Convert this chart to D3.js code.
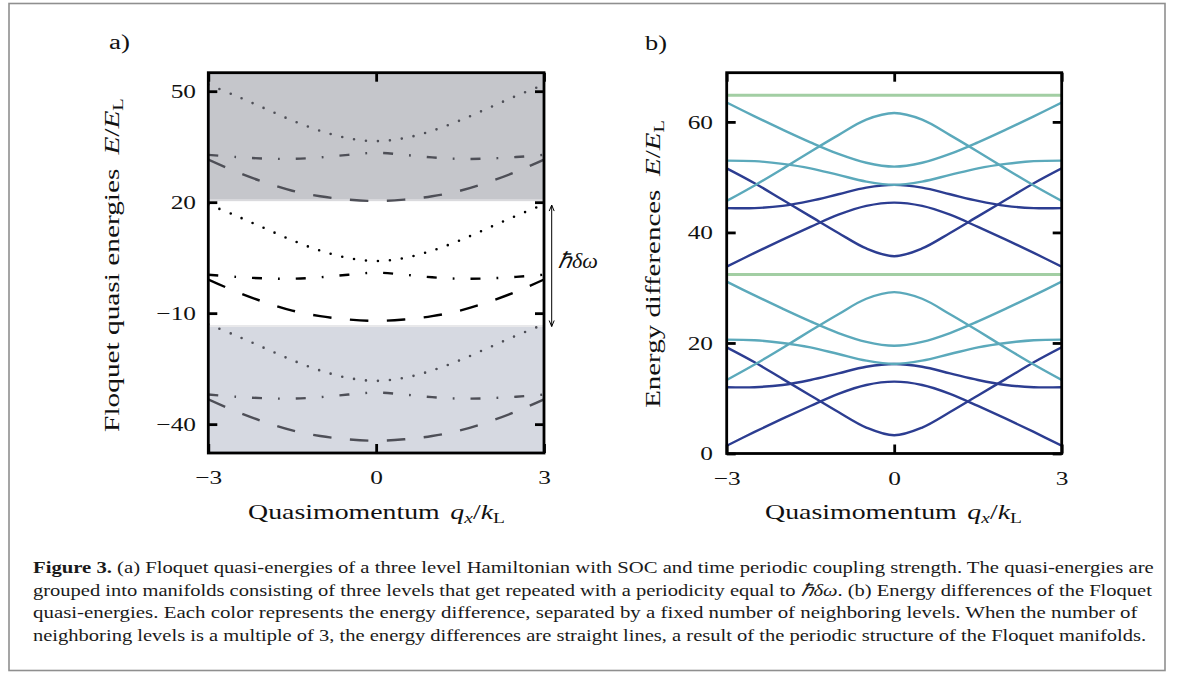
<!DOCTYPE html>
<html><head><meta charset="utf-8">
<script src="https://cdn.jsdelivr.net/npm/d3@7"></script>
<style>html,body{margin:0;padding:0;background:#fff;} svg{display:block;}</style>
</head><body>
<svg id="c" width="1182" height="675"></svg>
<script>
// ---------------- data ----------------
const qValues = [-3,-2.5,-2,-1.5,-1,-0.5,0,0.5,1,1.5,2,2.5,3];
const xTicks = [-3,0,3];

// (a) Floquet quasi-energies, three manifolds x three levels
const dotTop     = [51.8,48.7,45.4,42.1,39.3,37.3,36.5,37.3,39.3,42.1,45.4,48.7,51.8];
const dashDotTop = [32.8,32.2,31.8,31.7,32.1,32.8,33.35,32.8,32.1,31.7,31.8,32.2,32.8];
const dashTop    = [31.5,28.2,25.4,23.1,21.6,20.7,20.3,20.7,21.6,23.1,25.4,28.2,31.5];
const dotMid     = [19.4,16.3,13.0,9.7,6.9,4.9,4.1,4.9,6.9,9.7,13.0,16.3,19.4];
const dashDotMid = [0.4,-0.2,-0.6,-0.7,-0.3,0.4,0.95,0.4,-0.3,-0.7,-0.6,-0.2,0.4];
const dashMid    = [-0.9,-4.2,-7.0,-9.3,-10.8,-11.7,-12.1,-11.7,-10.8,-9.3,-7.0,-4.2,-0.9];
const dotBot     = [-13.0,-16.1,-19.4,-22.7,-25.5,-27.5,-28.3,-27.5,-25.5,-22.7,-19.4,-16.1,-13.0];
const dashDotBot = [-32.0,-32.6,-33.0,-33.1,-32.7,-32.0,-31.45,-32.0,-32.7,-33.1,-33.0,-32.6,-32.0];
const dashBot    = [-33.3,-36.6,-39.4,-41.7,-43.2,-44.1,-44.5,-44.1,-43.2,-41.7,-39.4,-36.6,-33.3];
const manifoldUpperEdge = 20.3;   // bottom of upper shaded manifold
const manifoldLowerEdge = -13.2;  // top of lower shaded manifold
const yTicksA = [-40,-10,20,50];

// (b) energy differences
const diffA  = [1.4,3.9,6.3,8.6,10.8,12.4,13.0,12.4,10.8,8.6,6.3,3.9,1.4];
const diffB  = [19.2,16.5,13.5,10.5,7.5,4.7,3.3,4.7,7.5,10.5,13.5,16.5,19.2];
const diffC  = [12.0,12.0,12.4,13.3,14.5,15.7,16.2,15.7,14.5,13.3,12.4,12.0,12.0];
const diffA2 = [33.8,36.3,38.7,41.0,43.2,44.8,45.4,44.8,43.2,41.0,38.7,36.3,33.8];
const diffB2 = [51.6,48.9,45.9,42.9,39.9,37.1,35.7,37.1,39.9,42.9,45.9,48.9,51.6];
const diffC2 = [44.4,44.4,44.8,45.7,46.9,48.1,48.6,48.1,46.9,45.7,44.8,44.4,44.4];
const diffD  = [20.6,20.5,20.0,19.2,18.0,16.8,16.2,16.8,18.0,19.2,20.0,20.5,20.6];
const diffE  = [13.3,16.1,19.1,22.2,25.2,28.0,29.2,28.0,25.2,22.2,19.1,16.1,13.3];
const diffF  = [31.1,28.6,26.2,23.9,21.8,20.2,19.5,20.2,21.8,23.9,26.2,28.6,31.1];
const diffD2 = [53.0,52.9,52.4,51.6,50.4,49.2,48.6,49.2,50.4,51.6,52.4,52.9,53.0];
const diffE2 = [45.7,48.5,51.5,54.6,57.6,60.4,61.6,60.4,57.6,54.6,51.5,48.5,45.7];
const diffF2 = [63.5,61.0,58.6,56.3,54.2,52.6,51.9,52.6,54.2,56.3,58.6,61.0,63.5];
const qEnds  = [-3,3];
const diffG1 = [32.4,32.4];
const diffG2 = [64.8,64.8];
const yTicksB = [0,20,40,60];

const captionLines = [
  [["Figure 3.", "b"], [" (a) Floquet quasi-energies of a three level Hamiltonian with SOC and time periodic coupling strength. The quasi-energies are", ""]],
  [["grouped into manifolds consisting of three levels that get repeated with a periodicity equal to ", ""], ["ℏδω", "i"], [". (b) Energy differences of the Floquet", ""]],
  [["quasi-energies. Each color represents the energy difference, separated by a fixed number of neighboring levels. When the number of", ""]],
  [["neighboring levels is a multiple of 3, the energy differences are straight lines, a result of the periodic structure of the Floquet manifolds.", ""]]
];

// ---------------- drawing ----------------
const FONT = "'Liberation Serif','Times New Roman',serif";
const svg = d3.select("#c");
const STRETCH = 1.3;

// figure border
svg.append("rect").attr("x",9).attr("y",3.5).attr("width",1156).attr("height",667)
  .attr("fill","none").attr("stroke","#8f8f8f").attr("stroke-width",1.6);

function fitText(sel, x, y, target, rotate) {
  const w = sel.node().getBBox().width;
  const k = target / w;
  sel.attr("transform", rotate
    ? `translate(${x},${y}) rotate(-90) scale(${k},1)`
    : `translate(${x},${y}) scale(${k},1)`);
}
function mathText(parent, pieces, fs, anchor) {
  const t = parent.append("text").attr("font-family",FONT).attr("font-size",fs)
    .attr("text-anchor",anchor).attr("fill","#111");
  let shifted = false;
  pieces.forEach(p => {
    const ts = t.append("tspan").text(p.t);
    if (p.i) ts.attr("font-style","italic");
    if (p.dx) ts.attr("dx", p.dx);
    if (p.sub) { ts.attr("font-size", fs*0.7); if (!shifted) ts.attr("dy", fs*0.2); shifted = true; }
    else if (shifted) { ts.attr("dy", -fs*0.2); shifted = false; }
  });
  return t;
}

const xA = d3.scaleLinear().domain([-3,3]).range([208.3,544]);
const yA = d3.scaleLinear().domain([-47.8,55]).range([453,72.7]);
const xB = d3.scaleLinear().domain([-3,3]).range([726.7,1061.7]);
const yB = d3.scaleLinear().domain([0,68.9]).range([453.5,72.7]);

function clip(id, x, y) {
  svg.append("clipPath").attr("id",id).append("rect")
    .attr("x",x.range()[0]).attr("y",y.range()[1])
    .attr("width",x.range()[1]-x.range()[0]).attr("height",y.range()[0]-y.range()[1]);
}
clip("clipA", xA, yA); clip("clipB", xB, yB);

// ----- panel a -----
const gA = svg.append("g").attr("clip-path","url(#clipA)");
gA.append("rect").attr("x",xA(-3)).attr("width",xA(3)-xA(-3))
  .attr("y",yA(55)).attr("height",yA(manifoldUpperEdge)-yA(55)).attr("fill","#c5c6cb");
gA.append("rect").attr("x",xA(-3)).attr("width",xA(3)-xA(-3))
  .attr("y",yA(manifoldUpperEdge)-2).attr("height",2).attr("fill","#dadadd");
gA.append("rect").attr("x",xA(-3)).attr("width",xA(3)-xA(-3))
  .attr("y",yA(manifoldLowerEdge)).attr("height",yA(-47.8)-yA(manifoldLowerEdge)).attr("fill","#d6d9e1");
gA.append("rect").attr("x",xA(-3)).attr("width",xA(3)-xA(-3))
  .attr("y",yA(manifoldLowerEdge)).attr("height",2).attr("fill","#e8e8ea");

const lineA = d3.line().x((d,i)=>xA(qValues[i])).y(d=>yA(d)).curve(d3.curveCatmullRom.alpha(0.5));
const styles = {
  dot:     {dash:"0,12", w:2.6, cap:"round"},
  dashDot: {dash:"10,16,1.8,16", w:2.4, cap:"butt"},
  dash:    {dash:"18.5,18.5", w:2.4, cap:"butt"}
};
const seriesA = [
  [dotTop,"dot","#4e4f57"],[dashDotTop,"dashDot","#4e4f57"],[dashTop,"dash","#4e4f57"],
  [dotMid,"dot","#000"],[dashDotMid,"dashDot","#000"],[dashMid,"dash","#000"],
  [dotBot,"dot","#4e4f57"],[dashDotBot,"dashDot","#4e4f57"],[dashBot,"dash","#4e4f57"]
];
seriesA.forEach(([vals, st, col]) => {
  const s = styles[st];
  gA.append("path").attr("d", lineA(vals)).attr("fill","none").attr("stroke",col)
    .attr("stroke-width",s.w).attr("stroke-dasharray",s.dash).attr("stroke-linecap",s.cap);
});

// ----- panel b -----
const gB = svg.append("g").attr("clip-path","url(#clipB)");
const lineB = d3.line().x((d,i)=>xB(qValues[i])).y(d=>yB(d)).curve(d3.curveCatmullRom.alpha(0.5));
const lineG = d3.line().x((d,i)=>xB(qEnds[i])).y(d=>yB(d));
const BLUE = "#2c3d91", TEAL = "#5ba9bb", GREEN = "#a2cea3";
[diffA,diffB,diffC,diffA2,diffB2,diffC2].forEach(v =>
  gB.append("path").attr("d",lineB(v)).attr("fill","none").attr("stroke",BLUE).attr("stroke-width",2.4));
[diffD,diffE,diffF,diffD2,diffE2,diffF2].forEach(v =>
  gB.append("path").attr("d",lineB(v)).attr("fill","none").attr("stroke",TEAL).attr("stroke-width",2.4));
[diffG1,diffG2].forEach(v =>
  gB.append("path").attr("d",lineG(v)).attr("fill","none").attr("stroke",GREEN).attr("stroke-width",3));

// ----- axes / frames -----
const fmt = d3.format("d");
function axes(x, y, yTicks, xPad, yPad) {
  const x0 = x.range()[0], x1 = x.range()[1], y0 = y.range()[0], y1 = y.range()[1];
  const gl = svg.append("g").attr("transform",`translate(${x0},0)`)
    .call(d3.axisLeft(y).tickValues(yTicks).tickFormat(fmt).tickSize(-9).tickPadding(yPad));
  const gr = svg.append("g").attr("transform",`translate(${x1},0)`)
    .call(d3.axisRight(y).tickValues(yTicks).tickSize(-9).tickFormat(""));
  const gb = svg.append("g").attr("transform",`translate(0,${y0})`)
    .call(d3.axisBottom(x).tickValues(xTicks).tickFormat(fmt).tickSize(-9).tickPadding(xPad));
  const gt = svg.append("g").attr("transform",`translate(0,${y1})`)
    .call(d3.axisTop(x).tickValues(xTicks).tickSize(-9).tickFormat(""));
  [gl,gr,gb,gt].forEach(g => {
    g.select(".domain").remove();
    g.selectAll(".tick line").attr("stroke","#000").attr("stroke-width",2.8);
  });
  gl.selectAll(".tick text").each(function() {
    const t = d3.select(this);
    t.attr("x",0).attr("dy",null).attr("font-family",FONT).attr("font-size",19.5).attr("fill","#111")
     .attr("transform",`translate(${-yPad},6.4) scale(${STRETCH},1)`);
  });
  gb.selectAll(".tick text").each(function() {
    const t = d3.select(this);
    t.attr("y",0).attr("dy",null).attr("font-family",FONT).attr("font-size",19.5).attr("fill","#111")
     .attr("transform",`translate(0,${xPad}) scale(${STRETCH},1)`);
  });
  svg.append("rect").attr("x",x0).attr("y",y1).attr("width",x1-x0).attr("height",y0-y1)
    .attr("fill","none").attr("stroke","#000").attr("stroke-width",2.8);
}
axes(xA, yA, yTicksA, 31, 12.3);
axes(xB, yB, yTicksB, 31, 13.7);

// arrow hbar delta omega
const ax = 551.7, ay0 = yA(manifoldUpperEdge)+4, ay1 = yA(manifoldLowerEdge)+1.5;
svg.append("line").attr("x1",ax).attr("x2",ax).attr("y1",ay0).attr("y2",ay1)
  .attr("stroke","#000").attr("stroke-width",1);
svg.append("path").attr("d",`M${ax-2.5},${ay0+6}L${ax},${ay0}L${ax+2.5},${ay0+6}M${ax-2.5},${ay1-6}L${ax},${ay1}L${ax+2.5},${ay1-6}`)
  .attr("fill","none").attr("stroke","#000").attr("stroke-width",1);
fitText(mathText(svg,[{t:"ℏδω",i:true}],22,"start"), 558, 268, 40, false);

// titles
fitText(mathText(svg,[{t:"Quasimomentum"},{t:"q",i:true,dx:8},{t:"x",i:true,sub:true},{t:"/"},{t:"k",i:true},{t:"L",sub:true}],21,"middle"), 376.5, 519, 257, false);
fitText(mathText(svg,[{t:"Quasimomentum"},{t:"q",i:true,dx:8},{t:"x",i:true,sub:true},{t:"/"},{t:"k",i:true},{t:"L",sub:true}],21,"middle"), 893.5, 519, 257, false);
fitText(mathText(svg,[{t:"Floquet quasi energies"},{t:"E",i:true,dx:10},{t:"/"},{t:"E",i:true},{t:"L",sub:true}],21,"middle"), 119, 265, 334, true);
fitText(mathText(svg,[{t:"Energy differences"},{t:"E",i:true,dx:10},{t:"/"},{t:"E",i:true},{t:"L",sub:true}],21,"middle"), 659.5, 264, 288, true);
fitText(mathText(svg,[{t:"a)"}],20,"start"), 109, 48.5, 21, false);
fitText(mathText(svg,[{t:"b)"}],20,"start"), 645, 49.5, 22, false);

// caption
const capBase = [573, 595.5, 618, 640.5];
const capEnd = [1155, 1153, 1138, 1147];
captionLines.forEach((line, i) => {
  const t = svg.append("text").attr("font-family",FONT).attr("font-size",17.5).attr("fill","#1a1a1a");
  line.forEach(([s, st]) => {
    const ts = t.append("tspan").text(s);
    if (st === "b") ts.attr("font-weight","bold");
    if (st === "i") ts.attr("font-style","italic");
  });
  fitText(t, 33, capBase[i], capEnd[i]-33, false);
});
</script>
</body></html>
